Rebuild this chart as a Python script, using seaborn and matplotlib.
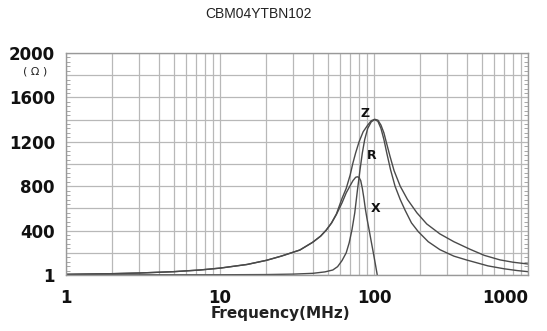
import numpy as np
import pandas as pd
import matplotlib
matplotlib.use("Agg")
import matplotlib.pyplot as plt
import seaborn as sns
from matplotlib.ticker import FixedLocator, FuncFormatter, NullFormatter, LogLocator

# ---- data ----
title = "CBM04YTBN102"
x_ticks = [1, 10, 100, 1000]
x_tick_labels = ["1", "10", "100", "1000"]
y_ticks = [0, 400, 800, 1200, 1600, 2000]
y_tick_labels = ["1", "400", "800", "1200", "1600", "2000"]

freq_z = [1, 2, 3, 5, 7.4, 10, 15, 20, 25, 33, 40, 45, 49, 53, 57, 62, 66, 70, 73, 76,
          80, 85, 91, 96, 101, 106, 111, 116, 120, 127, 135, 148, 165, 190, 220, 268,
          330, 420, 520, 658, 800, 1000]
z_vals = [6, 12, 18, 30, 45, 62, 95, 132, 170, 225, 295, 350, 405, 470, 550, 690, 780,
          900, 1010, 1100, 1200, 1290, 1350, 1390, 1403, 1395, 1350, 1280, 1200, 1070,
          940, 800, 680, 560, 460, 370, 300, 232, 177, 136, 115, 99]

freq_r = [1, 10, 20, 30, 40, 48, 54, 58, 62, 66, 69, 72, 75, 78, 81, 84, 87, 91, 96,
          101, 106, 111, 116, 121, 128, 137, 148, 159, 175, 194, 225, 268, 330, 400,
          550, 700, 850, 1000]
r_vals = [1, 2, 4, 8, 15, 28, 45, 75, 130, 200, 290, 410, 560, 760, 940, 1100, 1220,
          1320, 1380, 1400, 1385, 1320, 1220, 1100, 950, 800, 680, 585, 470, 390, 300,
          228, 170, 135, 82, 56, 40, 30]

freq_x = [1, 2, 3, 5, 7.4, 10, 15, 20, 25, 33, 40, 45, 49, 53, 57, 62, 66, 70, 73, 76,
          78, 80, 82, 84, 86, 88, 90, 93, 96, 99, 102, 105]
x_vals = [6, 12, 18, 30, 45, 62, 95, 132, 170, 225, 295, 350, 405, 468, 545, 650, 740,
          805, 850, 880, 885, 878, 850, 780, 690, 590, 510, 405, 300, 200, 100, 0]

df = pd.concat([
    pd.DataFrame({"f": freq_z, "v": z_vals, "s": "Z"}),
    pd.DataFrame({"f": freq_r, "v": r_vals, "s": "R"}),
    pd.DataFrame({"f": freq_x, "v": x_vals, "s": "X"}),
])

sns.set_style("white")
plt.rcParams["font.family"] = ["DejaVu Sans"]

fig = plt.figure(figsize=(5.47, 3.31), dpi=100)
ax = fig.add_axes([66 / 547, 56 / 331, 462 / 547, 222 / 331])

curve_color = "#4a4a4a"
sns.lineplot(data=df, x="f", y="v", units="s", estimator=None, sort=False,
             color=curve_color, linewidth=1.0, ax=ax, legend=False)

ax.set_xscale("log")
ax.set_xlim(1, 1000)
ax.set_ylim(0, 2000)

grid_c = "#b8b8b8"
# x ticks
ax.xaxis.set_major_locator(FixedLocator(x_ticks))
ax.set_xticklabels(x_tick_labels)
ax.xaxis.set_minor_locator(LogLocator(base=10, subs=np.arange(2, 10)))
ax.xaxis.set_minor_formatter(NullFormatter())
ax.grid(True, which="both", axis="x", color=grid_c, linewidth=0.9)
# y ticks: grid every 200, label every 400, small marks every 40
ax.yaxis.set_major_locator(FixedLocator(list(range(0, 2001, 200))))
lab = dict(zip(y_ticks, y_tick_labels))
ax.yaxis.set_major_formatter(FuncFormatter(lambda v, p: lab.get(int(round(v)), "")))
ax.yaxis.set_minor_locator(FixedLocator(list(range(0, 2001, 40))))
ax.grid(True, which="major", axis="y", color=grid_c, linewidth=0.9)

ax.tick_params(axis="both", which="major", length=0)
ax.tick_params(axis="x", which="minor", length=0)
ax.tick_params(axis="y", which="minor", direction="in", length=3, width=0.6,
               color="#999999", left=True, right=True)
ax.tick_params(axis="x", which="major", pad=10)
ax.tick_params(axis="y", which="major", pad=8)
for t in ax.get_xticklabels() + ax.get_yticklabels():
    t.set_fontsize(12)
    t.set_fontweight("bold")
    t.set_color("#111111")
ax.get_xticklabels()[-1].set_horizontalalignment("right")

for sp in ax.spines.values():
    sp.set_color("#999999")
    sp.set_linewidth(1.0)

ax.set_xlabel("Frequency(MHz)", fontsize=11, fontweight="bold", color="#222222")
ax.xaxis.set_label_coords((280 - 66) / 462, (275 - 306) / 222)
ax.set_ylabel("")

# curve labels
ax.text(87.5, 1458, "Z", fontsize=9, fontweight="bold", ha="center", va="center", color="#111111")
ax.text(97, 1080, "R", fontsize=9, fontweight="bold", ha="center", va="center", color="#111111")
ax.text(103, 603, "X", fontsize=9, fontweight="bold", ha="center", va="center", color="#111111")

fig.text(35 / 547, 1 - 72 / 331, "( Ω )", fontsize=8, ha="center", va="center", color="#222222")
fig.text(258 / 547, 1 - 14 / 331, title, fontsize=10, ha="center", va="center",
         color="#222222", family=["Liberation Sans", "DejaVu Sans"])

fig.savefig("out.png", dpi=100)
